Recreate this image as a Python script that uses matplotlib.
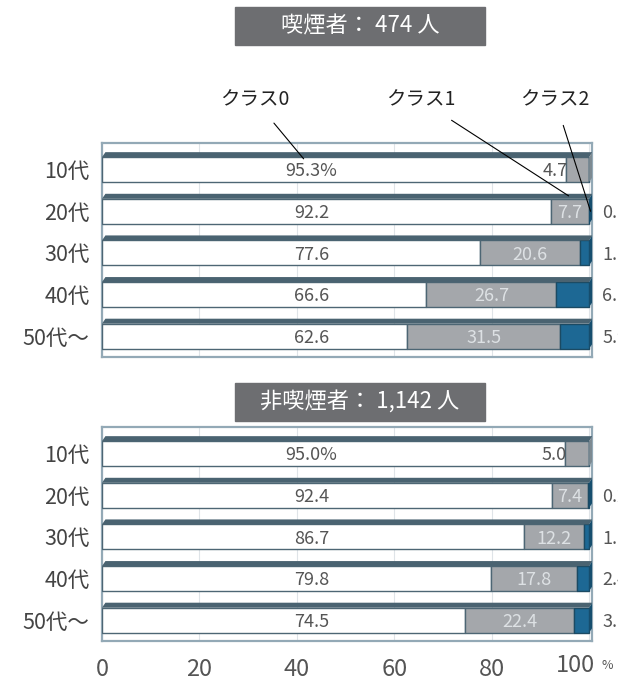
import matplotlib
matplotlib.use("Agg")
import matplotlib.pyplot as plt
from matplotlib.patches import Polygon, Rectangle

plt.rcParams['font.family'] = ['Noto Sans CJK JP', 'DejaVu Sans']

ages = ['10代', '20代', '30代', '40代', '50代〜']
ticks = [0, 20, 40, 60, 80, 100]

# smokers (474 people)
smoker_c0 = [95.3, 92.2, 77.6, 66.6, 62.6]
smoker_c1 = [4.7, 7.7, 20.6, 26.7, 31.5]
smoker_c2 = [0.0, 0.1, 1.8, 6.7, 5.9]

# non-smokers (1,142 people)
nonsmoker_c0 = [95.0, 92.4, 86.7, 79.8, 74.5]
nonsmoker_c1 = [5.0, 7.4, 12.2, 17.8, 22.4]
nonsmoker_c2 = [0.0, 0.2, 1.1, 2.4, 3.1]

panel_titles = ['喫煙者： 474 人', '非喫煙者： 1,142 人']
class_names = ['クラス0', 'クラス1', 'クラス2']

W, H = 618, 681
fig = plt.figure(figsize=(W / 100, H / 100), dpi=100)

c_white = '#ffffff'
c_gray = '#a4a7ab'
c_blue = '#1d6894'
c_top = '#4a6371'
c_side = '#164e6e'
c_frame = '#93a9b6'
c_text = '#555555'

bar_h = 0.6
dx, dy = 0.7, 0.12


def draw_panel(ax, c0, c1, c2):
    y = list(range(len(ages)))
    lefts1 = c0
    lefts2 = [a + b for a, b in zip(c0, c1)]
    ax.barh(y, c0, height=bar_h, color=c_white, edgecolor='#4d6674', lw=1.0, zorder=3)
    ax.barh(y, c1, left=lefts1, height=bar_h, color=c_gray, edgecolor='#4d6674', lw=1.0, zorder=3)
    ax.barh(y, c2, left=lefts2, height=bar_h, color=c_blue, edgecolor='#1b4a63', lw=1.0, zorder=3)

    for i in y:
        total = c0[i] + c1[i] + c2[i]
        top = i - bar_h / 2
        # top face of the 3D bar
        ax.add_patch(Polygon([(0, top), (total, top), (total + dx, top - dy), (dx, top - dy)],
                             closed=True, color=c_top, zorder=4, lw=0))
        # right side face
        ax.add_patch(Polygon([(total, top), (total + dx, top - dy), (total + dx, i + bar_h / 2 - dy),
                              (total, i + bar_h / 2)],
                             closed=True, color=c_side if c2[i] > 0 else '#7d8a92', zorder=4, lw=0))

        # labels
        lab0 = '{:.1f}%'.format(c0[i]) if i == 0 else '{:.1f}'.format(c0[i])
        ax.text(43, i + 0.04, lab0, ha='center', va='center', fontsize=13,
                color=c_text, zorder=5)
        if c1[i] < 6:
            ax.text(c0[i] + 0.4, i + 0.04, '{:.1f}'.format(c1[i]), ha='right', va='center',
                    fontsize=13, color=c_text, zorder=5)
        else:
            ax.text(c0[i] + c1[i] / 2, i + 0.04, '{:.1f}'.format(c1[i]), ha='center',
                    va='center', fontsize=13, color='#dde1e4', zorder=5)
        # class 2 values sit past the right edge and are cut by the figure, as in the source
        if c2[i] > 0:
            ax.text(102.7, i + 0.04, '{:.1f}'.format(c2[i]), ha='left', va='center',
                    fontsize=13, color=c_text, clip_on=False, zorder=5)

    ax.set_xlim(0, 100.6)
    ax.set_ylim(4.5, -0.64)
    ax.set_yticks(y)
    ax.set_yticklabels(ages, fontsize=15.5, color='#444444')
    ax.tick_params(axis='y', length=0, pad=9)
    ax.set_xticks(ticks)
    ax.tick_params(axis='x', length=0)
    ax.grid(axis='x', color='#dfe4e8', lw=0.8, zorder=0)
    for s in ax.spines.values():
        s.set_color(c_frame)
        s.set_linewidth(1.6)


ax1 = fig.add_axes([102 / W, 1 - 357 / H, 490 / W, 214 / H])
draw_panel(ax1, smoker_c0, smoker_c1, smoker_c2)
ax1.set_xticklabels([])

ax2 = fig.add_axes([102 / W, 1 - 641 / H, 490 / W, 214 / H])
draw_panel(ax2, nonsmoker_c0, nonsmoker_c1, nonsmoker_c2)
ax2.set_xticklabels([str(t) for t in ticks[:-1]] + [''], fontsize=17, color='#555555')
ax2.tick_params(axis='x', pad=12)
# last tick drawn by hand so that the small % sits beside it
trans = ax2.get_xaxis_transform()
ax2.text(ticks[-1] - 2.9, -0.115, str(ticks[-1]), transform=trans, fontsize=17,
         color='#555555', ha='center', va='center', clip_on=False)
ax2.text(ticks[-1] + 2.6, -0.115, '%', transform=trans, fontsize=9,
         color='#555555', ha='left', va='center', clip_on=False)

# panel title boxes
for title, ytop in zip(panel_titles, [7, 383]):
    fig.patches.append(Rectangle((235 / W, 1 - (ytop + 38) / H), 250 / W, 38 / H,
                                 transform=fig.transFigure, color='#6d6e71', zorder=1))
    fig.text(360 / W, 1 - (ytop + 19) / H, title, ha='center', va='center',
             fontsize=16, color='white', zorder=2)

# class leader labels
label_pos = [(0.312, 1.2), (0.65, 1.2), (0.925, 1.2)]
targets = [(41.4, -0.26), (95.8, 0.63), (100.3, 1.0)]
for name, tpos, xy in zip(class_names, label_pos, targets):
    ax1.annotate(name, xy=xy, xycoords='data', xytext=tpos, textcoords='axes fraction',
                 ha='center', va='center', fontsize=14, color='#222222',
                 arrowprops=dict(arrowstyle='-', color='black', lw=0.8,
                                 shrinkA=9, shrinkB=0), zorder=6)

fig.savefig('out.png', dpi=100)
